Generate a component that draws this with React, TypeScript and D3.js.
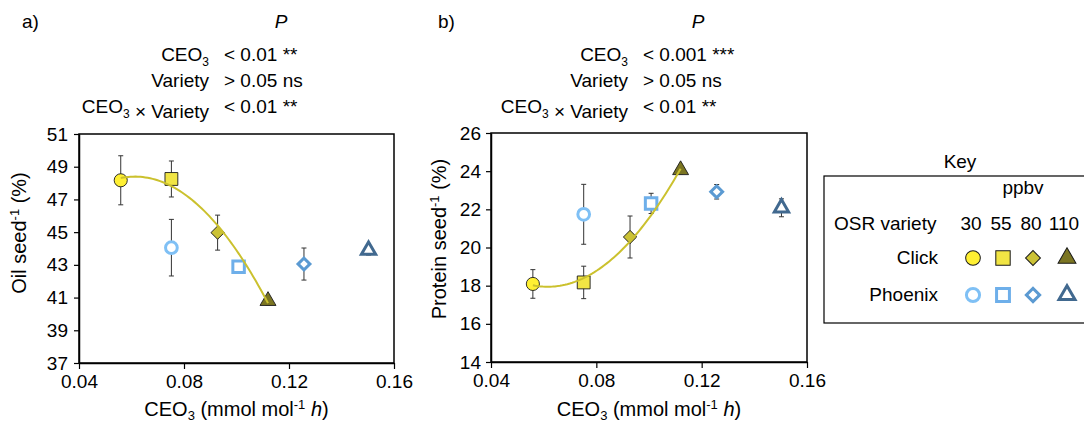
import React, { useEffect, useRef } from "react";
import * as d3 from "d3";

// CEO3 exposure (mmol mol-1 h) for each ozone level, 30/55/80/110 ppbv
const ppbv = ["30", "55", "80", "110"];
const ceoClick = [0.0559, 0.0752, 0.0928, 0.112];
const ceoPhoenix = [0.0752, 0.1008, 0.1257, 0.1503];

const oilClick = [48.17, 48.25, 44.97, 40.8];
const oilClickErr = [1.5, 1.1, 1.07, 0.25];
const oilPhoenix = [44.05, 42.89, 43.05, 43.9];
const oilPhoenixErr = [1.73, 0.3, 0.98, 0.3];

const proteinClick = [18.09, 18.17, 20.55, 24.06];
const proteinClickErr = [0.75, 0.85, 1.1, 0.2];
const proteinPhoenix = [21.74, 22.31, 22.92, 22.08];
const proteinPhoenixErr = [1.57, 0.53, 0.38, 0.47];

const xTicks = [0.04, 0.08, 0.12, 0.16];
const oilTicks = [37, 39, 41, 43, 45, 47, 49, 51];
const proteinTicks = [14, 16, 18, 20, 22, 24, 26];

const statRows = ["CEO3", "Variety", "CEO3 x Variety"];
const oilStats = ["< 0.01 **", "> 0.05 ns", "< 0.01 **"];
const proteinStats = ["< 0.001 ***", "> 0.05 ns", "< 0.01 **"];

const clickFill = ["#fff033", "#f1e544", "#cbc236", "#7b7522"];
const phoenixStroke = ["#7fc0f5", "#6eafea", "#5b9ad2", "#41698f"];
const trendColor = "#cbc12e";
const font = "'Liberation Sans', Arial, sans-serif";

// least squares quadratic, like the spreadsheet trendline
function fitQuadratic(xs: number[], ys: number[]) {
  const s = (p: number) => d3.sum(xs, (x) => x ** p);
  const t = (p: number) => d3.sum(xs, (x, i) => x ** p * ys[i]);
  const A = [
    [s(0), s(1), s(2), t(0)],
    [s(1), s(2), s(3), t(1)],
    [s(2), s(3), s(4), t(2)],
  ];
  for (let i = 0; i < 3; i++) {
    for (let j = i + 1; j < 3; j++) {
      const f = A[j][i] / A[i][i];
      for (let k = i; k < 4; k++) A[j][k] -= f * A[i][k];
    }
  }
  const c = [0, 0, 0];
  for (let i = 2; i >= 0; i--) {
    let v = A[i][3];
    for (let k = i + 1; k < 3; k++) v -= A[i][k] * c[k];
    c[i] = v / A[i][i];
  }
  return (x: number) => c[0] + c[1] * x + c[2] * x * x;
}

function markerPath(i: number, open: boolean) {
  const k = open ? 0.8 : 1;
  if (i === 0) return d3.symbol(d3.symbolCircle, 135 * k)();
  if (i === 1) return d3.symbol(d3.symbolSquare, 165 * k)();
  if (i === 2) return d3.symbol(d3.symbolSquare, 88 * k)();
  return d3.symbol(d3.symbolTriangle, 110 * k)();
}

function drawMarker(g: any, i: number, open: boolean, x: number, y: number, scale = 1) {
  const p = g
    .append("path")
    .attr("d", markerPath(i, open))
    .attr(
      "transform",
      `translate(${x},${y}) scale(${scale})` + (i === 2 ? " rotate(45)" : "")
    );
  if (open) {
    p.attr("fill", "#fff").attr("stroke", phoenixStroke[i]).attr("stroke-width", 3 / scale);
  } else {
    p.attr("fill", clickFill[i]).attr("stroke", "#1a1a1a").attr("stroke-width", 0.9);
  }
}

// text with "3" as subscript when it follows CEO
function richText(t: any, s: string) {
  const parts = s.split("CEO3");
  parts.forEach((part, i) => {
    if (i > 0) {
      t.append("tspan").text("CEO");
      t.append("tspan").attr("font-size", 12).attr("dy", 5).text("3");
      t.append("tspan").attr("dy", -5).text("");
    }
    if (part) t.append("tspan").text(part.replace(" x ", " \u00d7 "));
  });
}

function Panel(svg: any, o: any) {
  const x = d3.scaleLinear().domain([0.04, 0.16]).range([o.left, o.right]);
  const y = d3
    .scaleLinear()
    .domain([o.yTicks[0], o.yTicks[o.yTicks.length - 1]])
    .range([o.bottom, o.top]);
  const g = svg.append("g").attr("font-family", font);

  g.append("text").attr("x", o.tagX).attr("y", 28).attr("font-size", 19).text(o.tag);
  g.append("text")
    .attr("x", o.pX)
    .attr("y", 28)
    .attr("font-size", 19)
    .attr("font-style", "italic")
    .attr("text-anchor", "middle")
    .text("P");
  statRows.forEach((r, i) => {
    const yy = 61 + i * 26;
    const t = g
      .append("text")
      .attr("x", o.labX)
      .attr("y", yy)
      .attr("font-size", 19)
      .attr("text-anchor", "end");
    richText(t, r);
    g.append("text")
      .attr("x", o.labX + 15)
      .attr("y", yy)
      .attr("font-size", 19)
      .text(o.stats[i]);
  });

  // frame
  g.append("rect")
    .attr("x", o.left)
    .attr("y", o.top)
    .attr("width", o.right - o.left)
    .attr("height", o.bottom - o.top)
    .attr("fill", "none")
    .attr("stroke", "#000")
    .attr("stroke-width", 1.5);

  const ax = g
    .append("g")
    .attr("transform", `translate(0,${o.bottom})`)
    .call(d3.axisBottom(x).tickValues(xTicks).tickFormat(d3.format(".2f")).tickSize(6).tickSizeOuter(0).tickPadding(6));
  const ay = g
    .append("g")
    .attr("transform", `translate(${o.left},0)`)
    .call(d3.axisLeft(y).tickValues(o.yTicks).tickSize(5).tickSizeOuter(0).tickPadding(o.yPad));
  [ax, ay].forEach((a) => {
    a.selectAll("text").attr("font-size", 19).attr("font-family", font).attr("fill", "#000");
    a.selectAll("line").attr("stroke", "#000").attr("stroke-width", 1.2);
    a.select(".domain").attr("stroke", "#000").attr("stroke-width", 1.5);
  });

  // axis titles
  const xt = g
    .append("text")
    .attr("x", (o.left + o.right) / 2)
    .attr("y", 416)
    .attr("font-size", 20)
    .attr("text-anchor", "middle");
  xt.append("tspan").text("CEO");
  xt.append("tspan").attr("font-size", 13).attr("dy", 4).text("3");
  xt.append("tspan").attr("dy", -4).text(" (mmol mol");
  xt.append("tspan").attr("font-size", 13).attr("dy", -7).text("-1");
  xt.append("tspan").attr("dy", 7).text(" ");
  xt.append("tspan").attr("font-style", "italic").text("h");
  xt.append("tspan").text(")");

  const yt = g
    .append("text")
    .attr("transform", `translate(${o.yTitleX},${o.yTitleY}) rotate(-90)`)
    .attr("font-size", 20)
    .attr("text-anchor", "middle");
  yt.append("tspan").text(o.yTitle);
  yt.append("tspan").attr("font-size", 13).attr("dy", -7).text("-1");
  yt.append("tspan").attr("dy", 7).text(" (%)");

  // error bars
  const bars = [
    ...ceoClick.map((c, i) => [c, o.click[i], o.clickErr[i]]),
    ...ceoPhoenix.map((c, i) => [c, o.phoenix[i], o.phoenixErr[i]]),
  ];
  bars.forEach(([c, v, e]) => {
    const px = x(c);
    g.append("path")
      .attr(
        "d",
        `M${px},${y(v - e)}V${y(v + e)}M${px - 2.5},${y(v + e)}h5M${px - 2.5},${y(v - e)}h5`
      )
      .attr("stroke", "#333")
      .attr("stroke-width", 1)
      .attr("fill", "none");
  });

  ceoPhoenix.forEach((c, i) => drawMarker(g, i, true, x(c), y(o.phoenix[i])));
  ceoClick.forEach((c, i) => drawMarker(g, i, false, x(c), y(o.click[i])));

  // trendline through the Click points
  const f = fitQuadratic(ceoClick, o.click);
  const xs = d3.range(0, 61).map((k) => ceoClick[0] + ((ceoClick[3] - ceoClick[0]) * k) / 60);
  g.append("path")
    .attr("d", d3.line<number>().x((d) => x(d)).y((d) => y(f(d)))(xs))
    .attr("fill", "none")
    .attr("stroke", trendColor)
    .attr("stroke-width", 2);
}

function Key(svg: any) {
  const g = svg.append("g").attr("font-family", font).attr("font-size", 19);
  g.append("text").attr("x", 960).attr("y", 168).attr("text-anchor", "middle").text("Key");
  g.append("rect")
    .attr("x", 824)
    .attr("y", 176)
    .attr("width", 300)
    .attr("height", 147)
    .attr("fill", "none")
    .attr("stroke", "#000")
    .attr("stroke-width", 1.2);
  g.append("text").attr("x", 1023).attr("y", 194).attr("text-anchor", "middle").text("ppbv");
  g.append("text").attr("x", 834).attr("y", 230).text("OSR variety");
  const cols = [971, 1001, 1031, 1064];
  ppbv.forEach((p, i) =>
    g.append("text").attr("x", cols[i]).attr("y", 230).attr("text-anchor", "middle").text(p)
  );
  g.append("text").attr("x", 938).attr("y", 264).attr("text-anchor", "end").text("Click");
  g.append("text").attr("x", 938).attr("y", 301).attr("text-anchor", "end").text("Phoenix");
  const mx = [973, 1003, 1033, 1067];
  mx.forEach((m, i) => {
    drawMarker(g, i, false, m, 258, 1.12);
    drawMarker(g, i, true, m, 295, 1.12);
  });
}

export default function App() {
  const svgRef = useRef<SVGSVGElement>(null);

  useEffect(() => {
    const svg = d3.select(svgRef.current);
    svg.selectAll("*").remove();
    Panel(svg, {
      left: 79, right: 394, top: 134, bottom: 363,
      yTicks: oilTicks, yPad: 6,
      click: oilClick, clickErr: oilClickErr,
      phoenix: oilPhoenix, phoenixErr: oilPhoenixErr,
      tag: "a)", tagX: 22, pX: 281, labX: 209, stats: oilStats,
      yTitle: "Oil seed", yTitleX: 26, yTitleY: 233,
    });
    Panel(svg, {
      left: 491, right: 807, top: 133, bottom: 362,
      yTicks: proteinTicks, yPad: 5,
      click: proteinClick, clickErr: proteinClickErr,
      phoenix: proteinPhoenix, phoenixErr: proteinPhoenixErr,
      tag: "b)", tagX: 438, pX: 698, labX: 628, stats: proteinStats,
      yTitle: "Protein seed", yTitleX: 446, yTitleY: 239,
    });
    Key(svg);
  }, []);

  return (
    <svg
      ref={svgRef}
      width={1084}
      height={424}
      style={{ position: "absolute", left: 0, top: 0, background: "#fff" }}
    />
  );
}
